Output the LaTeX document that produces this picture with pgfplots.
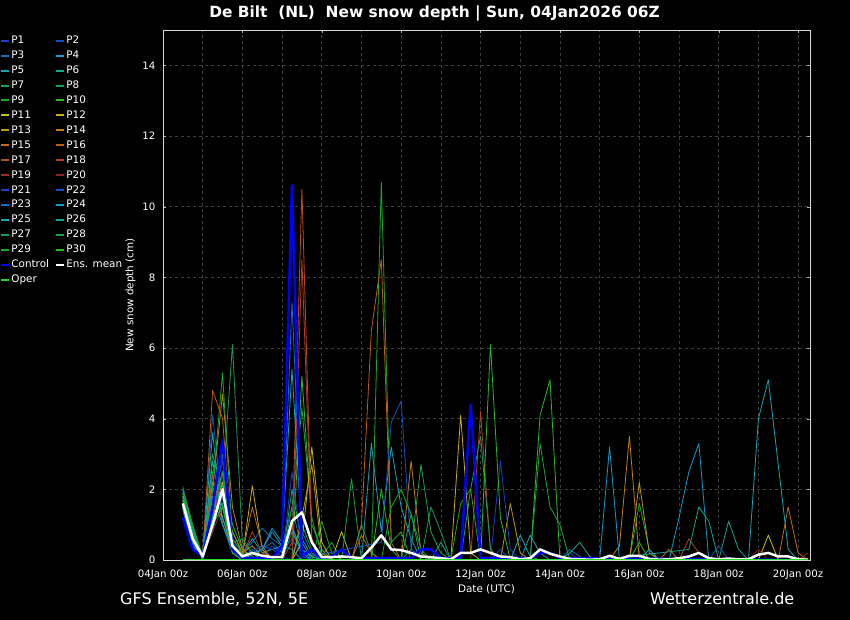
\documentclass[border=0pt]{standalone}
\usepackage{fontspec}
\setmainfont{DejaVu Sans}
\usepackage{pgfplots}
\pgfplotsset{compat=1.18}
\definecolor{c1}{HTML}{1A40C8}
\definecolor{c2}{HTML}{1050C0}
\definecolor{c3}{HTML}{1070C0}
\definecolor{c4}{HTML}{109CCC}
\definecolor{c5}{HTML}{10A8B8}
\definecolor{c6}{HTML}{10A888}
\definecolor{c7}{HTML}{10A060}
\definecolor{c8}{HTML}{10A848}
\definecolor{c9}{HTML}{10B020}
\definecolor{c10}{HTML}{20C020}
\definecolor{c11}{HTML}{C0C010}
\definecolor{c12}{HTML}{C8B010}
\definecolor{c13}{HTML}{C09810}
\definecolor{c14}{HTML}{C08010}
\definecolor{c15}{HTML}{C06C10}
\definecolor{c16}{HTML}{C05C10}
\definecolor{c17}{HTML}{C04C10}
\definecolor{c18}{HTML}{B83C20}
\definecolor{c19}{HTML}{A02C20}
\definecolor{c20}{HTML}{902020}
\definecolor{ctrl}{HTML}{0000FF}
\definecolor{oper}{HTML}{22DD22}
\definecolor{gridc}{HTML}{3C3C3C}
\begin{document}
\begin{tikzpicture}[x=1pt,y=1pt]
\fill[black] (0,0) rectangle (850,620);
\useasboundingbox (0,0) rectangle (850,620);
\begin{axis}[
  at={(163pt,60pt)}, anchor=south west,
  width=647pt, height=530pt, scale only axis,
  xmin=0, xmax=16.3, ymin=0, ymax=15,
  axis line style={white!85!black, line width=0.8pt},
  xtick={0,2,...,16},
  xticklabels={04Jan 00z,06Jan 00z,08Jan 00z,10Jan 00z,12Jan 00z,14Jan 00z,16Jan 00z,18Jan 00z,20Jan 00z},
  minor x tick num=1,
  ytick={0,2,...,14},
  grid=both,
  grid style={gridc, line width=0.6pt, dash pattern=on 3pt off 3pt},
  minor grid style={gridc, line width=0.6pt, dash pattern=on 3pt off 3pt},
  major tick length=3pt, minor tick length=0pt,
  tick style={white!70!black},
  /pgf/number format/assume math mode=true,
  ticklabel style={white, font=\fontsize{10.2}{12}\selectfont},
  xticklabel style={yshift=-6pt},
  yticklabel style={xshift=-4pt},
  xlabel={Date (UTC)}, ylabel={New snow depth (cm)},
  label style={white, font=\fontsize{10.4}{12}\selectfont},
  xlabel style={yshift=1pt},
  every axis plot/.append style={line width=0.8pt, mark=none, line join=round},
  legend columns=2,
  legend cell align=left,
  legend image code/.code={\draw[#1, line width=2pt] (0pt,0pt) -- (8pt,0pt);},
  legend style={at={(axis description cs:-0.2519,0.991)}, anchor=north west,
    fill=none, draw=none, text=white, inner sep=0pt,
    font=\fontsize{10.4}{11}\selectfont,
    nodes={inner sep=1.2pt},
    row sep=3.3pt,
    /tikz/every even column/.append style={column sep=5pt}},
]
% P1
\addplot[c1] coordinates {(0.5,1.8)(0.75,0.7)(1,0.1)(1.25,1.2)(1.5,3.0)(1.75,0.5)(2,0.1)(2.25,0.3)(2.5,0.1)(2.75,0.4)(3,0.2)(3.25,0.6)(3.5,0.1)(3.75,0)(6,0)(6.25,0.3)(6.5,0.1)(6.75,0)(10,0)(10.25,0.2)(10.5,0)};
\addlegendentry{P1}
% P2
\addplot[c2] coordinates {(0.5,2.1)(0.75,0.8)(1,0.1)(1.25,4.1)(1.5,1.5)(1.75,0.2)(2,0)(2.75,0)(3,0.3)(3.25,1.0)(3.5,0.2)(3.75,0)(8.25,0)(8.5,0.3)(8.75,0)};
\addlegendentry{P2}
% P3
\addplot[c3] coordinates {(0.5,1.6)(0.75,0.5)(1,0.2)(1.25,1.5)(1.5,2.0)(1.75,0.8)(2,0.2)(2.25,0.5)(2.5,0.9)(2.75,0.6)(3,0.4)(3.25,1.5)(3.5,0.3)(3.75,0.1)(4,0)(10,0)(10.25,0.3)(10.5,0.1)(10.75,0)};
\addlegendentry{P3}
% P4
\addplot[c4] coordinates {(0.5,1.4)(0.75,0.4)(1,0.2)(1.25,2.0)(1.5,2.2)(1.75,0.3)(2,0.1)(2.5,0.3)(2.75,0.9)(3,0.5)(3.25,0.8)(3.5,0.2)(3.75,0)(12.75,0)(13,1.2)(13.25,2.5)(13.5,3.3)(13.75,0)(14,0)};
\addlegendentry{P4}
% P5
\addplot[c5] coordinates {(0.5,1.5)(0.75,0.3)(1,0.2)(1.25,3.6)(1.5,1.0)(1.75,0.4)(2,0.2)(2.25,0.6)(2.5,0.2)(2.75,0.3)(3,0.4)(3.25,0.9)(3.5,0.3)(3.75,0.1)(4,0)(5,0)(5.25,3.3)(5.5,0.8)(5.75,3.2)(6,1.5)(6.25,0.6)(6.5,0)(9,0)(9.25,0.7)(9.5,0.2)(9.75,0)};
\addlegendentry{P5}
% P6
\addplot[c6] coordinates {(0.5,1.7)(0.75,0.6)(1,0)(1.25,1.0)(1.5,2.5)(1.75,0.3)(2,0.1)(2.25,0.2)(2.5,0)(3,0)(3.25,2.0)(3.5,0.5)(3.75,0)(6.75,0)(7,0.5)(7.25,0)(14,0)(14.25,1.1)(14.5,0.3)(14.75,0)};
\addlegendentry{P6}
% P7
\addplot[c7] coordinates {(0.5,1.9)(0.75,0.8)(1,0.1)(1.25,0.8)(1.5,2.0)(1.75,6.1)(2,0.5)(2.25,0.2)(2.5,0)(3,0)(3.25,0.8)(3.5,0.3)(3.75,0)(4.75,0)(5,1.0)(5.25,0.2)(5.5,0)(6.5,0)(6.75,1.5)(7,0.8)(7.25,0)};
\addlegendentry{P7}
% P8
\addplot[c8] coordinates {(0.5,2.0)(0.75,1.0)(1,0.1)(1.25,3.0)(1.5,1.8)(1.75,0.5)(2,0.1)(2.25,0)(3,0)(3.25,1.5)(3.5,4.3)(3.75,1.2)(4,0.1)(4.25,0.5)(4.5,0)(6,0)(6.25,0.3)(6.5,2.7)(6.75,0.8)(7,0.2)(7.25,0)};
\addlegendentry{P8}
% P9
\addplot[c9] coordinates {(0.5,1.8)(0.75,0.5)(1,0.1)(1.25,2.5)(1.5,3.0)(1.75,0.4)(2,0.2)(2.25,0)(3.25,0)(3.5,1.0)(3.75,0.3)(4,0)(5.25,0)(5.5,10.7)(5.75,0.5)(6,0.8)(6.25,0)(11.75,0)(12,1.6)(12.25,0.3)(12.5,0)};
\addlegendentry{P9}
% P10
\addplot[c10] coordinates {(0.5,1.9)(0.75,0.9)(1,0)(1.25,1.5)(1.5,2.5)(1.75,1.0)(2,0.3)(2.25,0.1)(2.5,0)(3.25,0)(3.5,5.2)(3.75,1.0)(4,0.3)(4.25,0)(9.25,0)(9.5,4.1)(9.75,5.1)(10,0)(10.25,0)};
\addlegendentry{P10}
% P11
\addplot[c11] coordinates {(0.5,1.6)(0.75,0.4)(1,0.1)(1.25,1.2)(1.5,2.2)(1.75,0.3)(2,0)(3.25,0)(3.5,0.5)(3.75,3.2)(4,0.5)(4.25,0)(4.5,0.8)(4.75,0)(15,0)(15.25,0.7)(15.5,0)};
\addlegendentry{P11}
% P12
\addplot[c12] coordinates {(0.5,1.5)(0.75,0.6)(1,0.1)(1.25,1.8)(1.5,1.2)(1.75,0.3)(2,0.1)(2.25,2.1)(2.5,0.3)(2.75,0)(7.25,0)(7.5,4.1)(7.75,0.2)(8,0)};
\addlegendentry{P12}
% P13
\addplot[c13] coordinates {(0.5,1.7)(0.75,0.5)(1,0.2)(1.25,2.2)(1.5,1.5)(1.75,0.8)(2,0.2)(2.25,0.4)(2.5,0.1)(2.75,0)(3.25,0)(3.5,1.2)(3.75,2.7)(4,0.2)(4.25,0)(8.5,0)(8.75,1.6)(9,0.2)(9.25,0)(11.75,0)(12,2.2)(12.25,0.2)(12.5,0)};
\addlegendentry{P13}
% P14
\addplot[c14] coordinates {(0.5,1.6)(0.75,0.6)(1,0.1)(1.25,2.0)(1.5,4.7)(1.75,1.5)(2,0.3)(2.25,0)(6,0)(6.25,2.8)(6.5,0.2)(6.75,0)(11.25,0)(11.5,0.4)(11.75,3.5)(12,0)(12.5,0)};
\addlegendentry{P14}
% P15
\addplot[c15] coordinates {(0.5,1.8)(0.75,0.7)(1,0.1)(1.25,1.5)(1.5,1.8)(1.75,0.6)(2,0.2)(2.25,1.5)(2.5,0.4)(2.75,0)(4.75,0)(5,0.7)(5.25,0.2)(5.5,0)(12.5,0)(12.75,0.3)(13,0)(15.5,0)(15.75,1.5)(16,0.2)(16.25,0)};
\addlegendentry{P15}
% P16
\addplot[c16] coordinates {(0.5,1.7)(0.75,0.5)(1,0.1)(1.25,4.8)(1.5,4.0)(1.75,0.4)(2,0.1)(2.25,0)(4.75,0)(5,1.0)(5.25,6.5)(5.5,8.5)(5.75,0.5)(6,0)};
\addlegendentry{P16}
% P17
\addplot[c17] coordinates {(0.5,1.9)(0.75,0.6)(1,0.1)(1.25,2.4)(1.5,1.0)(1.75,0.3)(2,0)(3,0)(3.25,0.5)(3.5,10.5)(3.75,0.6)(4,0)};
\addlegendentry{P17}
% P18
\addplot[c18] coordinates {(0.5,1.8)(0.75,0.5)(1,0)(1.25,1.8)(1.5,2.0)(1.75,0.4)(2,0.1)(2.25,0.8)(2.5,0.2)(2.75,0)(3.25,0)(3.5,8.5)(3.75,0.5)(4,0)(7.75,0)(8,4.2)(8.25,0.3)(8.5,0)(13,0)(13.25,0.6)(13.5,0.2)(13.75,0)};
\addlegendentry{P18}
% P19
\addplot[c19] coordinates {(0.5,1.6)(0.75,0.4)(1,0.1)(1.25,1.0)(1.5,2.5)(1.75,0.2)(2,0)(16,0)(16.25,0.2)};
\addlegendentry{P19}
% P20
\addplot[c20] coordinates {(0.5,1.5)(0.75,0.3)(1,0.1)(1.25,0.8)(1.5,1.5)(1.75,0.2)(2,0)(14.75,0)(15,0.3)(15.25,0)};
\addlegendentry{P20}
% P21
\addplot[c1] coordinates {(0.5,2.0)(0.75,0.7)(1,0.1)(1.25,1.6)(1.5,2.8)(1.75,0.5)(2,0.1)(2.25,0)(3,0)(3.25,2.5)(3.5,0.3)(3.75,0)(8.25,0)(8.5,2.8)(8.75,0.3)(9,0)};
\addlegendentry{P21}
% P22
\addplot[c2] coordinates {(0.5,1.6)(0.75,0.6)(1,0.1)(1.25,1.2)(1.5,1.8)(1.75,0.3)(2,0.1)(2.5,0.4)(2.75,0.3)(3,0.1)(3.25,0)(5.5,0.5)(5.75,3.9)(6,4.5)(6.25,0.3)(6.5,0)(13.75,0)(14,0.4)(14.25,0)};
\addlegendentry{P22}
% P23
\addplot[c3] coordinates {(0.5,1.7)(0.75,0.5)(1,0.2)(1.25,2.0)(1.5,1.5)(1.75,0.3)(2,0.1)(2.5,0.3)(2.75,0.5)(3,0.2)(3.25,7.3)(3.5,0.8)(3.75,0.2)(4,0)};
\addlegendentry{P23}
% P24
\addplot[c4] coordinates {(0.5,1.5)(0.75,0.4)(1,0.1)(1.25,1.8)(1.5,1.0)(1.75,0.2)(2,0)(2.5,0.3)(2.75,0.8)(3,0.4)(3.25,0.3)(3.5,0)(11,0)(11.25,3.2)(11.5,0)(12,0)(12.25,0.3)(12.5,0)};
\addlegendentry{P24}
% P25
\addplot[c5] coordinates {(0.5,1.6)(0.75,0.5)(1,0.1)(1.25,2.8)(1.5,1.2)(1.75,0.3)(2,0.1)(2.75,0)(3,0.5)(3.25,5.4)(3.5,0.6)(3.75,0.1)(4,0)(8.75,0)(9,0.7)(9.25,0.1)(9.5,0)(14.75,0)(15,4.0)(15.25,5.1)(15.5,2.7)(15.75,0.3)(16,0)};
\addlegendentry{P25}
% P26
\addplot[c6] coordinates {(0.5,1.8)(0.75,0.8)(1,0.1)(1.25,1.0)(1.5,2.0)(1.75,0.2)(2,0)(10,0)(10.25,0.2)(10.5,0.5)(10.75,0.1)(11,0)(13.25,0.3)(13.5,1.5)(13.75,1.1)(14,0)};
\addlegendentry{P26}
% P27
\addplot[c7] coordinates {(0.5,1.9)(0.75,0.7)(1,0.1)(1.25,1.3)(1.5,2.5)(1.75,0.5)(2,0.6)(2.25,0.2)(2.5,0)(6,0)(6.25,1.3)(6.5,0.3)(6.75,0)(7.5,0)(7.75,2.0)(8,3.5)(8.25,0.3)(8.5,0)};
\addlegendentry{P27}
% P28
\addplot[c8] coordinates {(0.5,1.7)(0.75,0.6)(1,0)(1.25,1.2)(1.5,1.6)(1.75,0.4)(2,0.1)(2.25,0)(4.5,0)(4.75,2.3)(5,0)(9.25,0)(9.5,3.3)(9.75,1.5)(10,1.0)(10.25,0)};
\addlegendentry{P28}
% P29
\addplot[c9] coordinates {(0.5,2.0)(0.75,0.9)(1,0.1)(1.25,2.0)(1.5,5.3)(1.75,0.6)(2,0.2)(2.25,0)(3.75,0)(4,1.1)(4.25,0.2)(4.5,0)(5.5,0)(5.75,1.5)(6,2.0)(6.25,1.3)(6.5,0)(7.25,0)(7.5,1.6)(7.75,2.0)(8,0)};
\addlegendentry{P29}
% P30
\addplot[c10] coordinates {(0.5,1.8)(0.75,0.6)(1,0.1)(1.25,1.0)(1.5,1.5)(1.75,0.3)(2,0)(5.25,0)(5.5,2.0)(5.75,0.3)(6,0)(8,0)(8.25,6.1)(8.5,1.2)(8.75,0)(11.75,0)(12,0.5)(12.25,0)};
\addlegendentry{P30}
% Control
\addplot[ctrl, line width=2.5pt] coordinates {(0.5,1.2)(0.75,0.3)(1,0.1)(1.25,1.5)(1.5,3.4)(1.75,0.3)(2,0.05)(2.75,0.05)(3,0.4)(3.25,10.6)(3.5,0.1)(3.75,0.3)(4,0.05)(4.25,0.1)(4.5,0.3)(4.75,0.05)(6.25,0.05)(6.5,0.3)(6.75,0.3)(7,0.05)(7.5,0.05)(7.75,4.4)(8,0.05)(9.25,0.05)(9.5,0.2)(9.75,0.2)(10,0.05)(16.25,0)};
\addlegendentry{Control}
% Ensemble mean
\addplot[white, line width=2.5pt] coordinates {(0.5,1.6)(0.75,0.6)(1,0.1)(1.25,1.0)(1.5,2.0)(1.75,0.4)(2,0.1)(2.25,0.2)(2.5,0.12)(2.75,0.08)(3,0.08)(3.25,1.1)(3.5,1.35)(3.75,0.5)(4,0.08)(4.25,0.08)(4.5,0.1)(4.75,0.08)(5,0.05)(5.25,0.35)(5.5,0.7)(5.75,0.3)(6,0.28)(6.25,0.2)(6.5,0.1)(6.75,0.08)(7,0.05)(7.25,0.02)(7.5,0.2)(7.75,0.2)(8,0.3)(8.25,0.2)(8.5,0.1)(8.75,0.08)(9,0.02)(9.25,0.05)(9.5,0.3)(9.75,0.18)(10,0.1)(10.25,0.03)(10.5,0.02)(10.75,0.01)(11,0.02)(11.25,0.12)(11.5,0.03)(11.75,0.12)(12,0.12)(12.25,0.03)(12.5,0.01)(12.75,0.02)(13,0.05)(13.25,0.1)(13.5,0.2)(13.75,0.05)(14,0.02)(14.25,0.04)(14.5,0.02)(14.75,0.02)(15,0.15)(15.25,0.2)(15.5,0.1)(15.75,0.1)(16,0.02)(16.25,0.01)};
\addlegendentry{Ens. mean}
% Oper
\addplot[oper, line width=2pt] coordinates {(0.5,0)(16.25,0)};
\addlegendentry{Oper}
\end{axis}
\node[white, font=\bfseries\fontsize{15.4}{17}\selectfont] at (434.5,607) {De Bilt\ \ (NL)\ \ New snow depth | Sun, 04Jan2026 06Z};
\node[white, anchor=base west, font=\fontsize{16}{18}\selectfont, inner sep=0pt] at (120,15) {GFS Ensemble, 52N, 5E};
\node[white, anchor=base west, font=\fontsize{16}{18}\selectfont, inner sep=0pt] at (650,15) {Wetterzentrale.de};
\end{tikzpicture}
\end{document}
